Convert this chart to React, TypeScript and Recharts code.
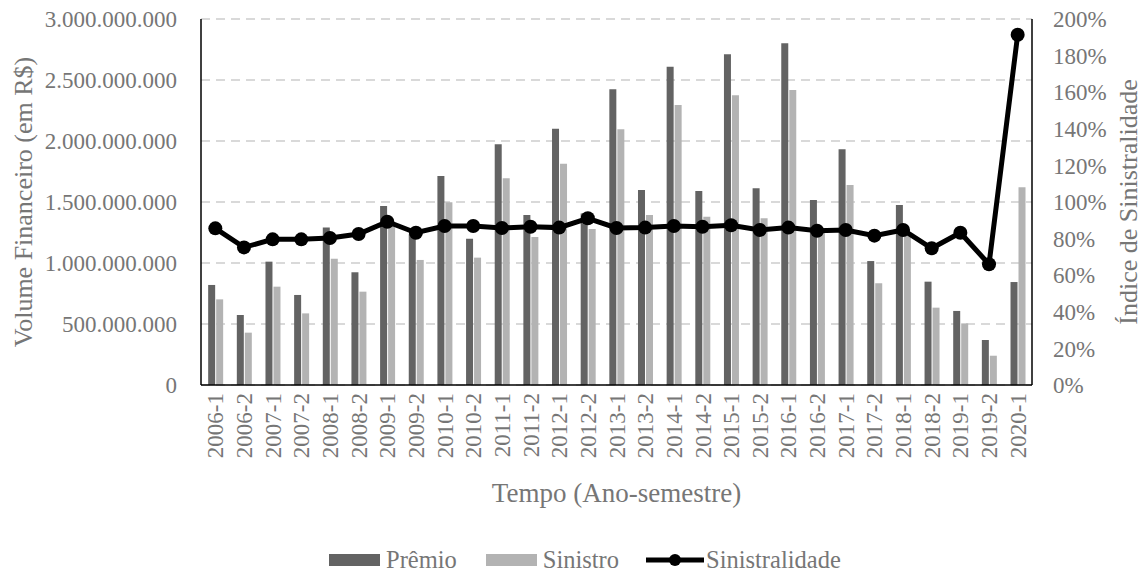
import {
  ComposedChart,
  Bar,
  Line,
  XAxis,
  YAxis,
  CartesianGrid,
  Legend,
} from "recharts";

const periods = [
  "2006-1", "2006-2", "2007-1", "2007-2", "2008-1", "2008-2", "2009-1", "2009-2",
  "2010-1", "2010-2", "2011-1", "2011-2", "2012-1", "2012-2", "2013-1", "2013-2",
  "2014-1", "2014-2", "2015-1", "2015-2", "2016-1", "2016-2", "2017-1", "2017-2",
  "2018-1", "2018-2", "2019-1", "2019-2", "2020-1",
];

// Prêmio (R$)
const premio = [
  820e6, 574e6, 1011e6, 738e6, 1290e6, 924e6, 1467e6, 1235e6,
  1713e6, 1199e6, 1973e6, 1393e6, 2101e6, 1405e6, 2424e6, 1598e6,
  2609e6, 1590e6, 2711e6, 1612e6, 2801e6, 1516e6, 1932e6, 1016e6,
  1475e6, 847e6, 607e6, 369e6, 844e6,
];

// Sinistro (R$)
const sinistro = [
  702e6, 429e6, 806e6, 587e6, 1035e6, 765e6, 1306e6, 1025e6,
  1498e6, 1044e6, 1694e6, 1213e6, 1814e6, 1279e6, 2096e6, 1393e6,
  2295e6, 1380e6, 2374e6, 1366e6, 2418e6, 1275e6, 1639e6, 834e6,
  1250e6, 634e6, 505e6, 240e6, 1620e6,
];

// Sinistralidade (%)
const sinistralidade = [
  85.6, 75.2, 79.6, 79.6, 80.3, 82.5, 89.2, 83.2,
  86.9, 86.9, 85.8, 86.5, 86.0, 91.1, 85.8, 86.0,
  86.9, 86.5, 87.3, 84.7, 86.0, 84.3, 84.7, 81.6,
  84.7, 74.7, 83.2, 66.0, 191.4,
];

const volumeTicks = [0, 500e6, 1000e6, 1500e6, 2000e6, 2500e6, 3000e6];
const pctTicks = [0, 20, 40, 60, 80, 100, 120, 140, 160, 180, 200];

const data = periods.map((p, i) => ({
  periodo: p,
  premio: premio[i],
  sinistro: sinistro[i],
  sinistralidade: sinistralidade[i],
}));

const FONT = "'Liberation Serif', 'Times New Roman', serif";
const TEXT = "#767676";
const PREMIO = "#636363";
const SINISTRO = "#b3b3b3";

const fmtVolume = (v: number) =>
  String(Math.round(v)).replace(/\B(?=(\d{3})+(?!\d))/g, ".");

function PeriodTick({ x, y, payload }: any) {
  return (
    <text
      transform={`translate(${x},${y}) rotate(-90)`}
      textAnchor="end"
      dy="0.35em"
      fill={TEXT}
      fontSize={23}
      fontFamily={FONT}
    >
      {payload.value}
    </text>
  );
}

function LegendBox() {
  const item = { display: "flex", alignItems: "center" } as const;
  return (
    <div
      style={{
        display: "flex",
        alignItems: "center",
        paddingLeft: 329,
        fontFamily: FONT,
        fontSize: 24.5,
        color: TEXT,
      }}
    >
      <div style={item}>
        <span style={{ width: 51, height: 12, background: PREMIO, marginRight: 6 }} />
        Prêmio
      </div>
      <div style={{ ...item, marginLeft: 29 }}>
        <span style={{ width: 51, height: 12, background: SINISTRO, marginRight: 6 }} />
        Sinistro
      </div>
      <div style={{ ...item, marginLeft: 27 }}>
        <svg width={58} height={16} style={{ marginRight: 2 }}>
          <line x1={0} y1={8} x2={58} y2={8} stroke="#000" strokeWidth={5} />
          <circle cx={29} cy={8} r={6} fill="#000" />
        </svg>
        Sinistralidade
      </div>
    </div>
  );
}

export default function App() {
  return (
    <div
      style={{
        position: "absolute",
        left: 0,
        top: 0,
        width: 1146,
        height: 575,
        background: "#fff",
        fontFamily: FONT,
      }}
    >
      <ComposedChart
        width={1146}
        height={575}
        data={data}
        margin={{ top: 19, right: 0, bottom: 0, left: 0 }}
        barCategoryGap="25%"
        barGap={1}
      >
        <CartesianGrid
          yAxisId="left"
          vertical={false}
          stroke="#d9d9d9"
          strokeWidth={2}
          strokeDasharray="9 6"
        />
        <XAxis
          dataKey="periodo"
          height={190}
          interval={0}
          tickLine={false}
          tickSize={0}
          tickMargin={8}
          axisLine={{ stroke: "#000", strokeWidth: 1.5 }}
          tick={<PeriodTick />}
          label={(props: any) => {
            const vb = props.viewBox;
            return (
              <text
                x={vb.x + vb.width / 2}
                y={493}
                textAnchor="middle"
                dominantBaseline="central"
                fill={TEXT}
                fontSize={27}
                fontFamily={FONT}
              >
                Tempo (Ano-semestre)
              </text>
            );
          }}
        />
        <YAxis
          yAxisId="left"
          orientation="left"
          width={201}
          domain={[0, 3000e6]}
          ticks={volumeTicks}
          tickFormatter={fmtVolume}
          tickLine={false}
          tickSize={0}
          tickMargin={24}
          axisLine={{ stroke: "#000", strokeWidth: 1.5 }}
          tick={{ fill: TEXT, fontSize: 23, fontFamily: FONT }}
          label={(props: any) => {
            const vb = props.viewBox;
            const cy = vb.y + vb.height / 2;
            return (
              <text
                transform={`translate(23,${cy}) rotate(-90)`}
                textAnchor="middle"
                dominantBaseline="central"
                fill={TEXT}
                fontSize={26}
                fontFamily={FONT}
              >
                Volume Financeiro (em R$)
              </text>
            );
          }}
        />
        <YAxis
          yAxisId="right"
          orientation="right"
          width={114}
          domain={[0, 200]}
          ticks={pctTicks}
          tickFormatter={(v: number) => `${v}%`}
          tickLine={false}
          tickSize={0}
          tickMargin={21}
          axisLine={{ stroke: "#000", strokeWidth: 1.5 }}
          tick={{ fill: TEXT, fontSize: 23, fontFamily: FONT }}
          label={(props: any) => {
            const vb = props.viewBox;
            const cy = vb.y + vb.height / 2;
            return (
              <text
                transform={`translate(1128,${cy}) rotate(-90)`}
                textAnchor="middle"
                dominantBaseline="central"
                fill={TEXT}
                fontSize={26}
                fontFamily={FONT}
              >
                Índice de Sinistralidade
              </text>
            );
          }}
        />
        <Bar yAxisId="left" dataKey="premio" name="Prêmio" fill={PREMIO} isAnimationActive={false} />
        <Bar yAxisId="left" dataKey="sinistro" name="Sinistro" fill={SINISTRO} isAnimationActive={false} />
        <Line
          yAxisId="right"
          dataKey="sinistralidade"
          name="Sinistralidade"
          stroke="#000"
          strokeWidth={5}
          dot={{ r: 7, fill: "#000", stroke: "#000", strokeWidth: 0 }}
          activeDot={false}
          isAnimationActive={false}
        />
        <Legend
          verticalAlign="middle"
          align="center"
          layout="horizontal"
          wrapperStyle={{ top: 546, left: 0, width: 1146 }}
          content={() => <LegendBox />}
        />
      </ComposedChart>
    </div>
  );
}
